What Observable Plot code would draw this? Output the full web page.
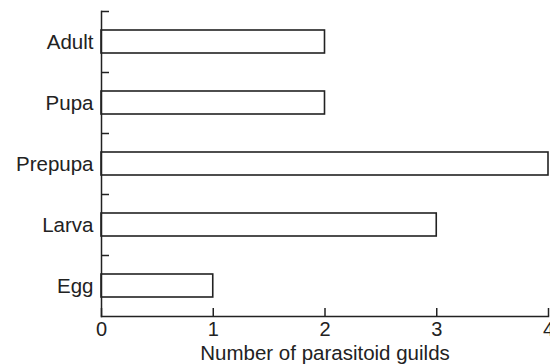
<!DOCTYPE html>
<html>
<head>
<meta charset="utf-8">
<script src="https://cdn.jsdelivr.net/npm/d3@7"></script>
<script src="https://cdn.jsdelivr.net/npm/@observablehq/plot@0.6"></script>
<style>
  html, body { margin: 0; padding: 0; background: #fff; }
  svg { display: block; }
</style>
</head>
<body>
<div id="chart"></div>
<script>
const stages = ["Adult", "Pupa", "Prepupa", "Larva", "Egg"];
const guilds = [2, 2, 4, 3, 1];
const xTicks = [0, 1, 2, 3, 4];
const xLabel = "Number of parasitoid guilds";

const data = stages.map((s, i) => ({stage: s, value: guilds[i]}));

const W = 550, H = 364;
const mTop = 11, mBottom = 48, mLeft = 101, mRight = 2;
const step = (H - mTop - mBottom) / stages.length;

const chart = Plot.plot({
  width: W,
  height: H,
  marginTop: mTop,
  marginBottom: mBottom,
  marginLeft: mLeft,
  marginRight: mRight,
  style: {fontFamily: "'Liberation Sans', Arial, Helvetica, sans-serif", color: "#222", background: "#fff", overflow: "visible"},
  x: {domain: [0, 4]},
  y: {domain: stages, paddingInner: 0.62, paddingOuter: 0.31},
  marks: [
    Plot.barX(data, {y: "stage", x: "value", fill: "white", stroke: "#222", strokeWidth: 1.6}),
    Plot.axisY({tickSize: 0, tickPadding: 8, fontSize: 20.5, fill: "#222", label: null}),
    Plot.axisY({text: null, tickSize: -8, dy: -step / 2, stroke: "#222", strokeWidth: 1.5, label: null}),
    Plot.axisX({ticks: xTicks, text: null, tickSize: -8, stroke: "#222", strokeWidth: 1.5, label: null}),
    Plot.axisX({ticks: xTicks, tickFormat: "d", tickSize: 0, tickPadding: 5, fontSize: 20, fill: "#222", label: null}),
    Plot.text([xLabel], {frameAnchor: "bottom", dy: 43, fontSize: 20.5, fill: "#222"}),
    Plot.frame({anchor: "left", stroke: "#222", strokeWidth: 1.5}),
    Plot.frame({anchor: "bottom", stroke: "#222", strokeWidth: 1.5})
  ]
});
document.getElementById("chart").appendChild(chart);
</script>
</body>
</html>
